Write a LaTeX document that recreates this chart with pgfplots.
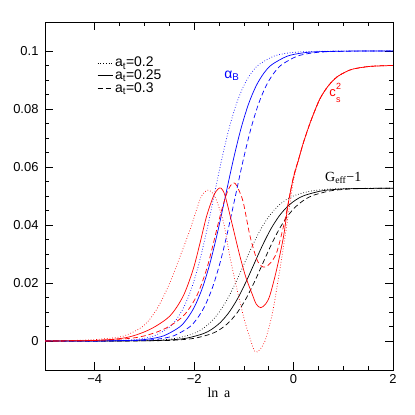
\documentclass[border=0pt]{standalone}
\usepackage{pgfplots}
\pgfplotsset{compat=1.18}
\usepackage{fontspec}
\setmainfont{Liberation Sans}
\newfontfamily\seriffont{Liberation Serif}
\definecolor{pblue}{RGB}{0,0,255}
\definecolor{pred}{RGB}{255,0,0}
\begin{document}
\begin{tikzpicture}
\path (-45bp,-45bp) rectangle (370bp,370bp);
\begin{axis}[
  scale only axis, width=348bp, height=348bp,
  xmin=-5, xmax=2, ymin=-0.01, ymax=0.11,
  tick align=inside, major tick length=8bp, minor tick length=4bp,
  xtick={-4,-2,0,2}, xticklabels={−4,−2,0,2}, minor x tick num=3,
  ytick={0,0.02,0.04,0.06,0.08,0.1}, yticklabels={0,0.02,0.04,0.06,0.08,0.1}, minor y tick num=3,
  tick label style={font=\fontsize{13}{15}\selectfont},
  xticklabel style={yshift=-1bp},
  yticklabel style={xshift=-3bp},
  xlabel={\seriffont ln\, a},
  xlabel style={font=\fontsize{14}{16}\selectfont, at={(axis description cs:0.5,-0.066)}, anchor=center},
  axis line style={line width=0.7bp},
  every tick/.style={line width=0.6bp, black},
  legend style={at={(0.15,0.905)}, anchor=north west, draw=none, fill=none,
    font=\fontsize{14}{15}\selectfont, row sep=-2.5bp, inner sep=0pt},
  legend cell align=left,
  legend image code/.code={\draw[#1, line width=0.7bp] (0bp,0bp) -- (15bp,0bp);},
  every axis plot/.append style={line width=0.7bp, smooth},
]
\addlegendimage{black, dotted}
\addlegendentry{a\textsubscript{t}=0.2}
\addlegendimage{black, solid}
\addlegendentry{a\textsubscript{t}=0.25}
\addlegendimage{black, dash pattern=on 5bp off 3bp}
\addlegendentry{a\textsubscript{t}=0.3}

% ---- G_eff - 1 (black)
\addplot[black, dotted, forget plot] coordinates {
(-5,0) (-3.72,0.0000177) (-3.04,0.00013) (-2.7,0.000353) (-2.36,0.000949) (-2.02,0.0025) (-1.85,0.004) (-1.68,0.00628) (-1.51,0.00961) (-1.34,0.01417) (-1.17,0.0199) (-1.0,0.02635) (-0.83,0.0328) (-0.66,0.03853) (-0.49,0.04309) (-0.32,0.04642) (-0.15,0.0487) (0.02,0.0502) (0.36,0.05175) (0.7,0.05235) (1.04,0.05257) (1.72,0.05268) (2,0.0527)};
\addplot[black, solid, forget plot] coordinates {
(-5,0) (-3.52,0.0000177) (-2.84,0.00013) (-2.5,0.000353) (-2.16,0.000949) (-1.82,0.0025) (-1.65,0.004) (-1.48,0.00628) (-1.31,0.00961) (-1.14,0.01417) (-0.97,0.0199) (-0.8,0.02635) (-0.63,0.0328) (-0.46,0.03853) (-0.29,0.04309) (-0.12,0.04642) (0.05,0.0487) (0.22,0.0502) (0.56,0.05175) (0.9,0.05235) (1.24,0.05257) (1.92,0.05268) (2,0.0527)};
\addplot[black, dash pattern=on 5bp off 3bp, forget plot] coordinates {
(-5,0) (-3.35,0.0000177) (-2.67,0.00013) (-2.33,0.000353) (-1.99,0.000949) (-1.65,0.0025) (-1.48,0.004) (-1.31,0.00628) (-1.14,0.00961) (-0.97,0.01417) (-0.8,0.0199) (-0.63,0.02635) (-0.46,0.0328) (-0.29,0.03853) (-0.12,0.04309) (0.05,0.04642) (0.22,0.0487) (0.39,0.0502) (0.73,0.05175) (1.07,0.05235) (1.41,0.05257) (2,0.05268)};

% ---- alpha_B (blue)
\addplot[pblue, dotted, forget plot] coordinates {
(-5,0) (-4.0,0.0000335) (-3.4,0.000247) (-3.1,0.000669) (-2.8,0.0018) (-2.5,0.00474) (-2.35,0.00759) (-2.2,0.01192) (-2.05,0.01824) (-1.9,0.02689) (-1.75,0.03775) (-1.6,0.05) (-1.45,0.06225) (-1.3,0.07311) (-1.15,0.08176) (-1.0,0.08808) (-0.85,0.09241) (-0.7,0.09526) (-0.4,0.0982) (-0.1,0.09933) (0.2,0.099753) (0.8,0.099966) (2,0.1)};
\addplot[pblue, solid, forget plot] coordinates {
(-5,0) (-3.85,0.0000335) (-3.23,0.000247) (-2.92,0.000669) (-2.61,0.0018) (-2.30,0.00474) (-2.145,0.00759) (-1.99,0.01192) (-1.835,0.01824) (-1.68,0.02689) (-1.525,0.03775) (-1.37,0.05) (-1.215,0.06225) (-1.06,0.07311) (-0.905,0.08176) (-0.75,0.08808) (-0.595,0.09241) (-0.44,0.09526) (-0.13,0.0982) (0.18,0.09933) (0.49,0.099753) (1.11,0.099966) (2,0.1)};
\addplot[pblue, dash pattern=on 5bp off 3bp, forget plot] coordinates {
(-5,0) (-3.65,0.0000335) (-3.03,0.000247) (-2.72,0.000669) (-2.41,0.0018) (-2.10,0.00474) (-1.945,0.00759) (-1.79,0.01192) (-1.635,0.01824) (-1.48,0.02689) (-1.325,0.03775) (-1.17,0.05) (-1.015,0.06225) (-0.86,0.07311) (-0.705,0.08176) (-0.55,0.08808) (-0.395,0.09241) (-0.24,0.09526) (0.07,0.0982) (0.38,0.09933) (0.69,0.099753) (1.31,0.099966) (2,0.1)};

% ---- c_s^2 (red)
\addplot[pred, dotted, forget plot] coordinates {
(-5,0) (-4.2,0.0003) (-3.8,0.0008) (-3.42,0.0017) (-3.02,0.0052) (-2.75,0.011) (-2.49,0.020) (-2.28,0.0293) (-2.08,0.0385) (-1.88,0.0489) (-1.78,0.0515) (-1.71,0.052) (-1.63,0.051) (-1.55,0.0485) (-1.41,0.041) (-1.28,0.029) (-1.14,0.018) (-1.0,0.008) (-0.9,0.0022) (-0.78,-0.0036) (-0.68,-0.003) (-0.575,0.0) (-0.49,0.005) (-0.41,0.0109) (-0.275,0.0247) (-0.17,0.0362) (-0.07,0.0477) (0.0,0.0555) (0.1,0.0625) (0.2,0.0685) (0.35,0.076) (0.53,0.0835) (0.7,0.088) (0.87,0.091) (1.05,0.0928) (1.2,0.0938) (1.54,0.0947) (2,0.095)};
\addplot[pred, solid, forget plot] coordinates {
(-5,0) (-4.0,0.0002) (-3.36,0.0012) (-2.89,0.004) (-2.49,0.0086) (-2.22,0.0155) (-2.02,0.0247) (-1.88,0.0339) (-1.75,0.043) (-1.61,0.05) (-1.52,0.0524) (-1.46,0.0527) (-1.4,0.0512) (-1.34,0.0477) (-1.21,0.0385) (-1.08,0.0293) (-0.96,0.022) (-0.84,0.0165) (-0.75,0.0127) (-0.66,0.0115) (-0.56,0.0128) (-0.475,0.0158) (-0.34,0.0247) (-0.2,0.0362) (-0.105,0.0477) (0,0.0565) (0.1,0.0625) (0.2,0.0685) (0.35,0.076) (0.53,0.0835) (0.7,0.088) (0.87,0.091) (1.05,0.0928) (1.2,0.0938) (1.54,0.0947) (2,0.095)};
\addplot[pred, dash pattern=on 5bp off 3bp, forget plot] coordinates {
(-5,0) (-4.0,0.0002) (-3.16,0.0012) (-2.62,0.004) (-2.22,0.0086) (-1.95,0.0155) (-1.75,0.0247) (-1.61,0.0339) (-1.48,0.043) (-1.38,0.049) (-1.31,0.0523) (-1.24,0.0542) (-1.18,0.0544) (-1.1,0.052) (-1.01,0.0477) (-0.876,0.0362) (-0.74,0.0282) (-0.65,0.0259) (-0.575,0.0255) (-0.47,0.0268) (-0.34,0.0305) (-0.2,0.0397) (-0.105,0.0477) (0,0.0568) (0.1,0.0626) (0.2,0.0685) (0.35,0.076) (0.53,0.0835) (0.7,0.088) (0.87,0.091) (1.05,0.0928) (1.2,0.0938) (1.54,0.0947) (2,0.095)};

\node[pblue, font=\fontsize{14}{15}\selectfont] at (axis cs:-1.24,0.0916) {α\textsubscript{B}};
\node[pred, font=\fontsize{13}{14}\selectfont, inner sep=1pt] at (axis cs:0.84,0.0854) {c\hspace{0.3pt}\begin{tabular}[c]{@{}l@{}}\fontsize{9}{9}\selectfont 2\\[-1.5pt]\fontsize{9}{9}\selectfont s\end{tabular}};
\node[black, font=\fontsize{14}{15}\selectfont\seriffont] at (axis cs:1.0,0.0561) {G\textsubscript{eff}−1};
\end{axis}
\end{tikzpicture}
\end{document}
